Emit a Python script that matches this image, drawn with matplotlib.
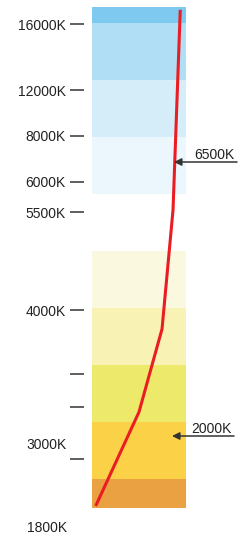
import matplotlib
matplotlib.use("Agg")
import matplotlib.pyplot as plt

# ---- data ----
band_bottoms = [0.0, 0.5, 1.5, 2.5, 3.5, 5.5, 6.5, 7.5, 8.5]
band_tops = [0.5, 1.5, 2.5, 3.5, 4.5, 6.5, 7.5, 8.5, 8.79]
band_colors = ["#eaa142", "#fad147", "#ede96b", "#f8f3b4", "#faf8de",
               "#ecf6fd", "#d4edf9", "#b0def4", "#7dc9ef"]

tick_pos = [8.49, 7.33, 6.53, 5.72, 5.19, 3.47, 2.35, 1.77, 0.86]
tick_labels = ["16000K", "12000K", "8000K", "6000K", "5500K", "4000K", "", "", ""]

extra_label_text = ["3000K", "1800K"]
extra_label_pos = [1.10, -0.35]

curve_x = [0.039, 0.50, 0.745, 0.862, 0.939]
curve_y = [0.035, 1.684, 3.14, 5.23, 8.74]

annot_text = ["6500K", "2000K"]
annot_y = [6.07, 1.263]
annot_head_x = [0.872, 0.851]
annot_tail_x = [1.543, 1.511]
annot_text_x = [1.521, 1.489]

# ---- figure ----
plt.rcParams['font.family'] = ['Liberation Sans', 'DejaVu Sans']
fig = plt.figure(figsize=(2.44, 5.39), dpi=100)
ax = fig.add_axes([92/244, 0, 94/244, 1])
ax.set_xlim(0, 1)
ax.set_ylim(-0.544, 8.912)

for b, t, c in zip(band_bottoms, band_tops, band_colors):
    ax.axhspan(b, t, xmin=0, xmax=1, color=c, lw=0)

ax.plot(curve_x, curve_y, color="#ea1c24", lw=2.2, solid_capstyle='butt',
        solid_joinstyle='miter', clip_on=False, zorder=3)

for s in ax.spines.values():
    s.set_visible(False)
ax.spines['left'].set_position(('outward', 5.76))
ax.set_xticks([])
ax.set_yticks(tick_pos)
ax.set_yticklabels(tick_labels)
ax.tick_params(axis='y', length=10.08, width=1.1, color='#333333',
               pad=2.9, labelsize=10, labelcolor='#222222')

for txt, y in zip(extra_label_text, extra_label_pos):
    ax.text(-0.266, y, txt, ha='right', va='center', fontsize=10,
            color='#222222', clip_on=False)

for txt, y, hx, tx, xx in zip(annot_text, annot_y, annot_head_x, annot_tail_x, annot_text_x):
    ax.annotate('', xy=(hx, y), xytext=(tx, y),
                arrowprops=dict(arrowstyle='-|>', color='#333333', lw=1.1,
                                mutation_scale=11, shrinkA=0, shrinkB=0),
                annotation_clip=False, zorder=4)
    ax.text(xx, y + 0.06, txt, ha='right', va='baseline', fontsize=10,
            color='#222222', clip_on=False)

fig.savefig("out.png", dpi=100)
